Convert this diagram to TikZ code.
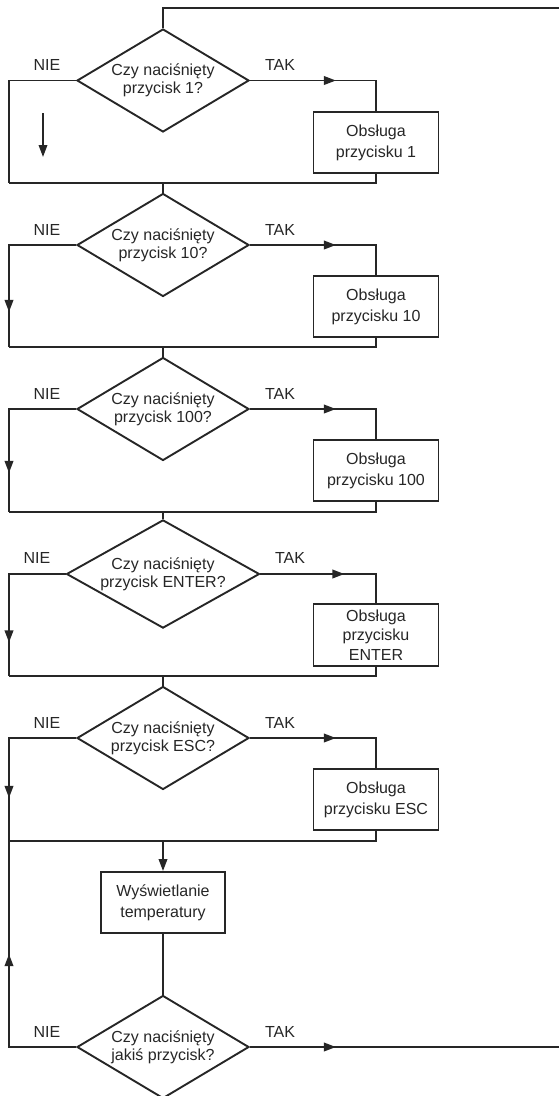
\documentclass[tikz,border=0pt]{standalone}
\usepackage{fontspec}
\setmainfont{Liberation Sans}
\usetikzlibrary{shapes.geometric,arrows.meta,decorations.markings}
\definecolor{ink}{gray}{0.15}
\begin{document}
\begin{tikzpicture}[x=1pt,y=-1pt,
  line width=1.9pt, color=ink,
  dec/.style={shape=diamond, draw, aspect=1.67, minimum width=172pt, minimum height=103pt,
    inner sep=0pt, align=center, font=\fontsize{16}{18}\selectfont},
  proc/.style={shape=rectangle, draw, minimum width=125pt, minimum height=61pt,
    inner sep=0pt, align=center, font=\fontsize{16}{21}\selectfont},
  lab/.style={inner sep=0pt, font=\fontsize{16}{18}\selectfont},
  tip/.style={-{Triangle[length=12pt,width=8.5pt]}},
  marr/.style={postaction={decorate},decoration={markings,
    mark=at position #1 with {\arrow{Triangle[length=12pt,width=8.5pt]}}}}
]
\useasboundingbox (0,0) rectangle (559,1096);

% nodes
\node[dec] (d1) at (163,80.5) {Czy naciśnięty\\przycisk 1?};
\node[proc] (b1) at (376,142.5) {Obsługa\\przycisku 1};
\node[dec] (d2) at (163,245) {Czy naciśnięty\\przycisk 10?};
\node[proc] (b2) at (376,306.5) {Obsługa\\przycisku 10};
\node[dec] (d3) at (163,409) {Czy naciśnięty\\przycisk 100?};
\node[proc] (b3) at (376,470.5) {Obsługa\\przycisku 100};
\node[dec, minimum width=193pt, minimum height=104pt] (d4) at (163,574) {Czy naciśnięty\\przycisk ENTER?};
\node[proc, minimum height=62pt, font=\fontsize{16}{19.5}\selectfont] (b4) at (376,635) {Obsługa\\przycisku\\ENTER};
\node[dec] (d5) at (163,738) {Czy naciśnięty\\przycisk ESC?};
\node[proc] (b5) at (376,799.5) {Obsługa\\przycisku ESC};
\node[proc, minimum width=124pt] (b6) at (163,902.5) {Wyświetlanie\\temperatury};
\node[dec] (d6) at (163,1047) {Czy naciśnięty\\jakiś przycisk?};

% labels
\node[lab] (n1) at (47,65) {NIE};   \node[lab] (t1) at (280,65) {TAK};
\node[lab] (n2) at (47,229.5) {NIE};  \node[lab] (t2) at (280,229.5) {TAK};
\node[lab] (n3) at (47,393.5) {NIE};  \node[lab] (t3) at (280,393.5) {TAK};
\node[lab] (n4) at (37,558) {NIE};  \node[lab] (t4) at (290,558) {TAK};
\node[lab] (n5) at (47,722.5) {NIE};  \node[lab] (t5) at (280,722.5) {TAK};
\node[lab] (n6) at (47,1031.5) {NIE}; \node[lab] (t6) at (280,1031.5) {TAK};

% junction coordinates
\coordinate (top) at (559,8);
\coordinate (j1) at (9,183);  \coordinate (m1) at (163,183);
\coordinate (j2) at (9,347);  \coordinate (m2) at (163,347);
\coordinate (j3) at (9,512);  \coordinate (m3) at (163,512);
\coordinate (j4) at (9,676);  \coordinate (m4) at (163,676);
\coordinate (j5) at (9,841);  \coordinate (m5) at (163,841);
\coordinate (rend) at (559,1047);
\coordinate (fa) at (43,113); \coordinate (fb) at (43,157);

% block 1
\draw (top) -| (d1.north);
\draw[marr=86pt] (d1.east) -| (b1.north);
\draw (d1.west) -| (j1);
\draw (b1.south) |- (j1);
\draw[tip] (fa) -- (fb);
\draw (m1) -- (d2.north);
% block 2
\draw[marr=86pt] (d2.east) -| (b2.north);
\draw[marr=134pt] (d2.west) -| (j2);
\draw (b2.south) |- (j2);
\draw (m2) -- (d3.north);
% block 3
\draw[marr=86pt] (d3.east) -| (b3.north);
\draw[marr=131pt] (d3.west) -| (j3);
\draw (b3.south) |- (j3);
\draw (m3) -- (d4.north);
% block 4
\draw[marr=84pt] (d4.east) -| (b4.north);
\draw[marr=125pt] (d4.west) -| (j4);
\draw (b4.south) |- (j4);
\draw (m4) -- (d5.north);
% block 5
\draw[marr=86pt] (d5.east) -| (b5.north);
\draw[marr=127pt] (d5.west) -| (j5);
\draw (b5.south) |- (j5);
\draw[tip] (m5) -- (b6.north);
% final
\draw (b6.south) -- (d6.north);
\draw[marr=160pt] (d6.west) -| (j5);
\draw[marr=86pt] (d6.east) -- (rend);
\end{tikzpicture}
\end{document}
